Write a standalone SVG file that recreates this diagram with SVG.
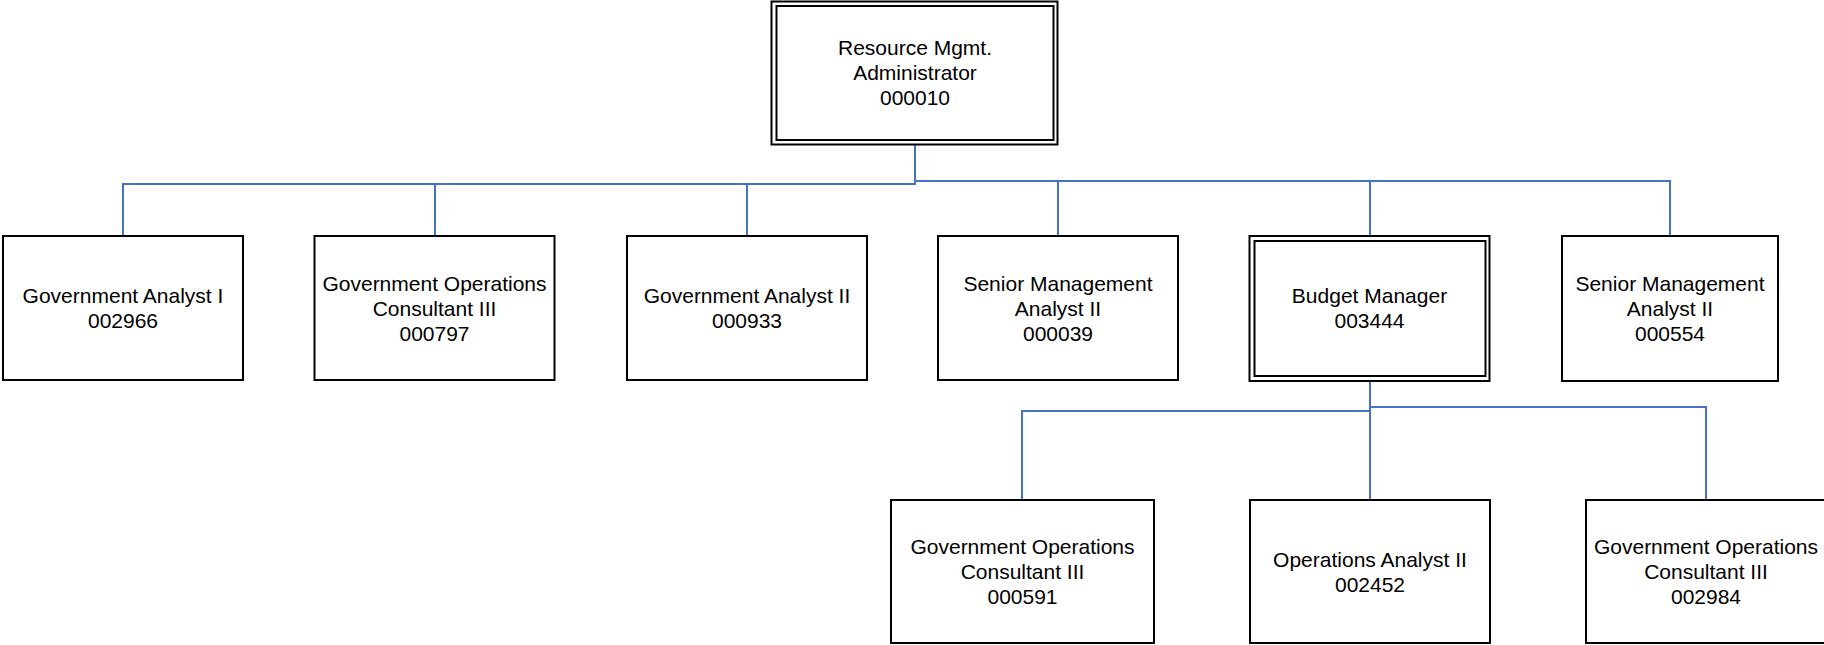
<svg xmlns="http://www.w3.org/2000/svg" width="1824" height="645" viewBox="0 0 1824 645">
  <style>
    .box { fill: #ffffff; stroke: #000000; stroke-width: 2; }
    .inner { fill: none; stroke: #000000; stroke-width: 2; }
    .link { fill: none; stroke: #4472C4; stroke-width: 2; }
    text { font-family: "Liberation Sans", Arial, sans-serif; font-size: 21px; fill: #000000; text-anchor: middle; }
  </style>
  <rect x="0" y="0" width="1824" height="645" fill="#ffffff"/>

  <!-- reporting lines -->
  <g id="connectors">
    <path class="link" d="M915 145 V184 H123 V236"/>
    <path class="link" d="M435 184 V236"/>
    <path class="link" d="M747 184 V236"/>
    <path class="link" d="M915 181 H1670 V236"/>
    <path class="link" d="M1058 181 V236"/>
    <path class="link" d="M1370 181 V236"/>
    <path class="link" d="M1370 381 V500"/>
    <path class="link" d="M1370 411 H1022 V500"/>
    <path class="link" d="M1370 407 H1706 V500"/>
  </g>

  <!-- head of unit -->
  <g id="node-000010">
    <rect class="box" x="771.5" y="1.5" width="286" height="143"/>
    <rect class="inner" x="776.5" y="6" width="277" height="134"/>
    <text x="915" y="54.5">Resource Mgmt.</text>
    <text x="915" y="79.5">Administrator</text>
    <text x="915" y="104.5">000010</text>
  </g>

  <!-- direct reports -->
  <g id="node-002966">
    <rect class="box" x="3" y="236" width="240" height="144"/>
    <text x="123" y="303">Government Analyst I</text>
    <text x="123" y="328">002966</text>
  </g>
  <g id="node-000797">
    <rect class="box" x="314.5" y="236" width="240" height="144"/>
    <text x="434.5" y="290.5">Government Operations</text>
    <text x="434.5" y="315.5">Consultant III</text>
    <text x="434.5" y="340.5">000797</text>
  </g>
  <g id="node-000933">
    <rect class="box" x="627" y="236" width="240" height="144"/>
    <text x="747" y="303">Government Analyst II</text>
    <text x="747" y="328">000933</text>
  </g>
  <g id="node-000039">
    <rect class="box" x="938" y="236" width="240" height="144"/>
    <text x="1058" y="290.5">Senior Management</text>
    <text x="1058" y="315.5">Analyst II</text>
    <text x="1058" y="340.5">000039</text>
  </g>
  <g id="node-003444">
    <rect class="box" x="1249.5" y="236" width="240" height="145"/>
    <rect class="inner" x="1254.5" y="241" width="231" height="135"/>
    <text x="1369.5" y="303">Budget Manager</text>
    <text x="1369.5" y="328">003444</text>
  </g>
  <g id="node-000554">
    <rect class="box" x="1562" y="236" width="216" height="145"/>
    <text x="1670" y="290.5">Senior Management</text>
    <text x="1670" y="315.5">Analyst II</text>
    <text x="1670" y="340.5">000554</text>
  </g>

  <!-- budget team -->
  <g id="node-000591">
    <rect class="box" x="891" y="500" width="263" height="143"/>
    <text x="1022.5" y="554">Government Operations</text>
    <text x="1022.5" y="579">Consultant III</text>
    <text x="1022.5" y="604">000591</text>
  </g>
  <g id="node-002452">
    <rect class="box" x="1250" y="500" width="240" height="143"/>
    <text x="1370" y="566.5">Operations Analyst II</text>
    <text x="1370" y="591.5">002452</text>
  </g>
  <g id="node-002984">
    <rect class="box" x="1586" y="500" width="240" height="143"/>
    <text x="1706" y="554">Government Operations</text>
    <text x="1706" y="579">Consultant III</text>
    <text x="1706" y="604">002984</text>
  </g>
</svg>
